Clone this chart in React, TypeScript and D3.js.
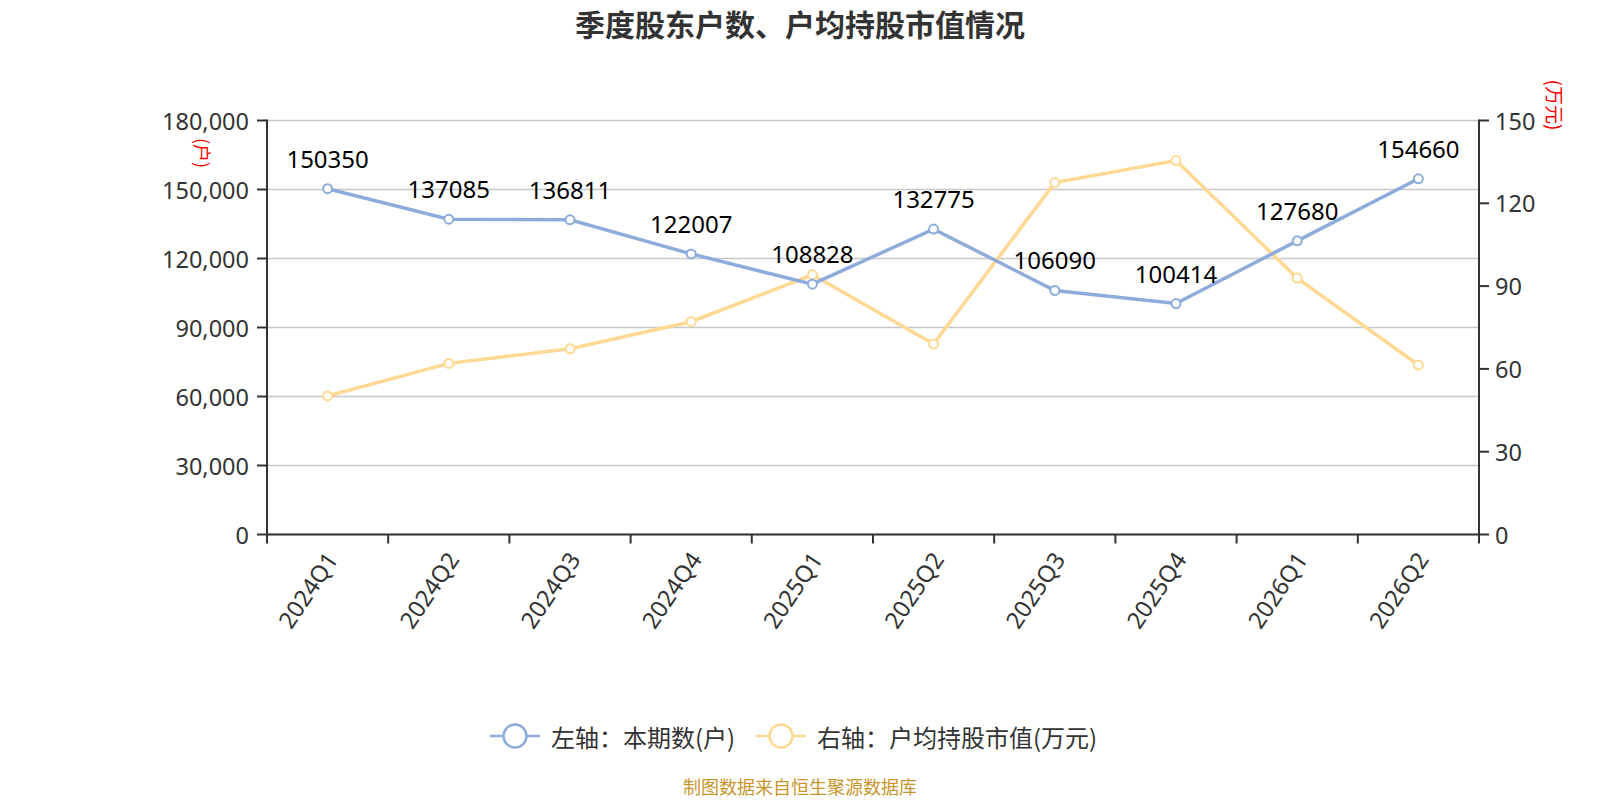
import React from "react";
import * as d3 from "d3";

const categories = ["2024Q1", "2024Q2", "2024Q3", "2024Q4", "2025Q1", "2025Q2", "2025Q3", "2025Q4", "2026Q1", "2026Q2"];
const holders = [150350, 137085, 136811, 122007, 108828, 132775, 106090, 100414, 127680, 154660];
const avgValue = [50.2, 62.0, 67.3, 77.1, 94.1, 69.0, 127.5, 135.5, 92.9, 61.4];
const leftTicks = [0, 30000, 60000, 90000, 120000, 150000, 180000];
const rightTicks = [0, 30, 60, 90, 120, 150];

const W = 1600;
const H = 800;
const X0 = 267;
const X1 = 1479;
const Y0 = 534.5;
const Y1 = 120.5;
const BLUE = "#8eacdb";
const YELLOW = "#ffd993";
const FONT = "'Noto Sans', 'Noto Sans CJK SC', sans-serif";
const CJK = "'Noto Sans CJK SC', 'Noto Sans', sans-serif";

export default function App() {
  const x = d3.scaleBand<string>().domain(categories).range([X0, X1]);
  const cx = (c: string) => (x(c) as number) + x.bandwidth() / 2;
  const yL = d3.scaleLinear().domain([0, 180000]).range([Y0, Y1]);
  const yR = d3.scaleLinear().domain([0, 150]).range([Y0, Y1]);
  const fmt = d3.format(",");

  const lineL = d3.line<number>().x((_, i) => cx(categories[i])).y((d) => yL(d));
  const lineR = d3.line<number>().x((_, i) => cx(categories[i])).y((d) => yR(d));

  const boundaries = d3.range(categories.length + 1).map((i) => X0 + i * x.bandwidth());

  return (
    <svg width={W} height={H} style={{ position: "absolute", left: 0, top: 0, background: "#fff" }} fontFamily={FONT}>
      <rect x={0} y={0} width={W} height={H} fill="#fff" />
      <text x={800} y={23} textAnchor="middle" dominantBaseline="central" fontSize={30} fontWeight="bold" fill="#333" fontFamily={CJK}>
        季度股东户数、户均持股市值情况
      </text>

      {/* grid */}
      {leftTicks.map((t) => (
        <line key={"g" + t} x1={X0} x2={X1} y1={yL(t)} y2={yL(t)} stroke="#c8c8c8" strokeWidth={1.3} />
      ))}

      {/* left axis */}
      <line x1={X0} x2={X0} y1={Y1 - 1} y2={Y0 + 1} stroke="#333" strokeWidth={2} />
      {leftTicks.map((t) => (
        <g key={"l" + t}>
          <line x1={X0 - 10} x2={X0} y1={yL(t)} y2={yL(t)} stroke="#333" strokeWidth={2} />
          <text x={X0 - 18} y={yL(t)} textAnchor="end" dominantBaseline="central" fontSize={23.5} fill="#333">
            {fmt(t)}
          </text>
        </g>
      ))}
      <text transform={`translate(203,153) rotate(90)`} textAnchor="middle" dominantBaseline="central" fontSize={18} fill="#ff0000" fontFamily={CJK}>
        (户)
      </text>

      {/* right axis */}
      <line x1={X1} x2={X1} y1={Y1 - 1} y2={Y0 + 1} stroke="#333" strokeWidth={2} />
      {rightTicks.map((t) => (
        <g key={"r" + t}>
          <line x1={X1} x2={X1 + 10} y1={yR(t)} y2={yR(t)} stroke="#333" strokeWidth={2} />
          <text x={X1 + 16} y={yR(t)} textAnchor="start" dominantBaseline="central" fontSize={23.5} fill="#333">
            {t}
          </text>
        </g>
      ))}
      <text transform={`translate(1555,105) rotate(90)`} textAnchor="middle" dominantBaseline="central" fontSize={19} fill="#ff0000" fontFamily={CJK}>
        (万元)
      </text>

      {/* x axis */}
      <line x1={X0} x2={X1} y1={Y0} y2={Y0} stroke="#333" strokeWidth={2} />
      {boundaries.map((b, i) => (
        <line key={"t" + i} x1={b} x2={b} y1={Y0} y2={Y0 + 9} stroke="#333" strokeWidth={2} />
      ))}
      {categories.map((c) => (
        <text key={"x" + c} transform={`translate(${cx(c) + 4},${Y0 + 20}) rotate(-56)`} textAnchor="end" dominantBaseline="central" fontSize={23.5} fill="#333">
          {c}
        </text>
      ))}

      {/* series */}
      <path d={lineR(avgValue) || ""} fill="none" stroke={YELLOW} strokeWidth={3.5} />
      <path d={lineL(holders) || ""} fill="none" stroke={BLUE} strokeWidth={3.5} />
      {avgValue.map((v, i) => (
        <circle key={"pr" + i} cx={cx(categories[i])} cy={yR(v)} r={4.5} fill="#fff" stroke={YELLOW} strokeWidth={2} />
      ))}
      {holders.map((v, i) => (
        <circle key={"pl" + i} cx={cx(categories[i])} cy={yL(v)} r={4.5} fill="#fff" stroke={BLUE} strokeWidth={2} />
      ))}
      {holders.map((v, i) => (
        <text key={"lb" + i} x={cx(categories[i])} y={yL(v) - 21} textAnchor="middle" fontSize={24} fill="#000">
          {v}
        </text>
      ))}

      {/* legend */}
      <g fontFamily={CJK}>
        <line x1={490} x2={540} y1={736} y2={736} stroke={BLUE} strokeWidth={2.5} />
        <circle cx={515} cy={736} r={11.5} fill="#fff" stroke={BLUE} strokeWidth={2.5} />
        <text x={551} y={736} dominantBaseline="central" fontSize={24} fill="#333">
          左轴：本期数(户)
        </text>
        <line x1={756} x2={806} y1={736} y2={736} stroke={YELLOW} strokeWidth={2.5} />
        <circle cx={781} cy={736} r={11.5} fill="#fff" stroke={YELLOW} strokeWidth={2.5} />
        <text x={817} y={736} dominantBaseline="central" fontSize={24} fill="#333">
          右轴：户均持股市值(万元)
        </text>
      </g>

      <text x={800} y={786} textAnchor="middle" dominantBaseline="central" fontSize={18} fill="#c8952b" fontFamily={CJK}>
        制图数据来自恒生聚源数据库
      </text>
    </svg>
  );
}
